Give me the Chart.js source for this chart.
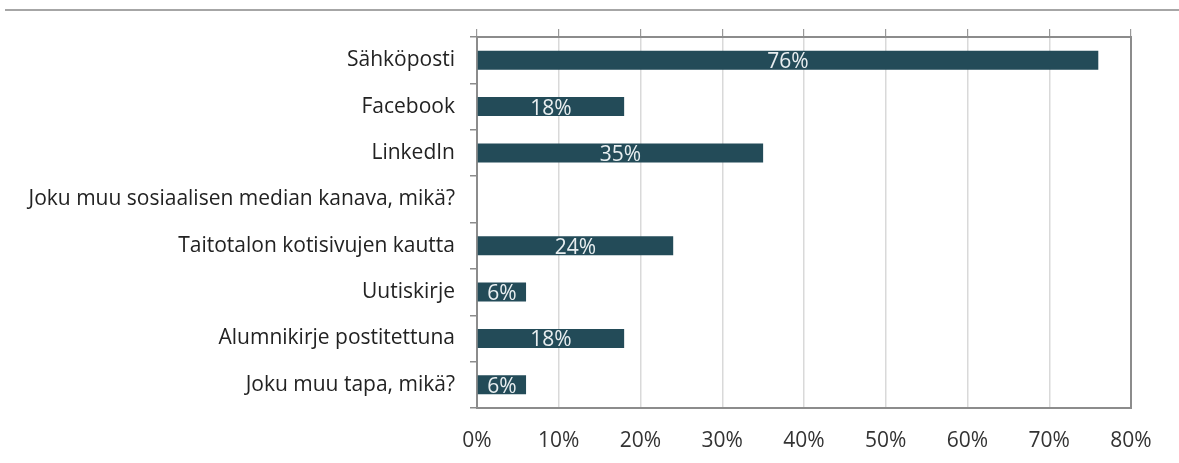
<!DOCTYPE html>
<html>
<head>
<meta charset="utf-8">
<script src="https://cdn.jsdelivr.net/npm/chart.js@4/dist/chart.umd.min.js"></script>
<style>
  html, body { margin: 0; padding: 0; background: #fff; }
  #wrap { position: relative; width: 1179px; height: 463px; }
  #topline { position: absolute; left: 5px; right: 0; top: 9px; height: 0; border-top: 2px solid #a6a6a6; }
  canvas { position: absolute; left: 0; top: 0; }
</style>
</head>
<body>
<div id="wrap">
  <div id="topline"></div>
  <canvas id="c" width="1179" height="463"></canvas>
</div>
<script>
const categories = [
  "Sähköposti",
  "Facebook",
  "LinkedIn",
  "Joku muu sosiaalisen median kanava, mikä?",
  "Taitotalon kotisivujen kautta",
  "Uutiskirje",
  "Alumnikirje postitettuna",
  "Joku muu tapa, mikä?"
];
const values = [76, 18, 35, 0, 24, 6, 18, 6];
const tickValues = [0, 10, 20, 30, 40, 50, 60, 70, 80];

const FONT = "'Open Sans', Lato, sans-serif";

const dataLabels = {
  id: 'dataLabels',
  afterDatasetsDraw(chart) {
    const ctx = chart.ctx;
    const meta = chart.getDatasetMeta(0);
    ctx.save();
    ctx.font = "21px " + FONT;
    ctx.fillStyle = "#e8eef0";
    ctx.textAlign = "center";
    ctx.textBaseline = "middle";
    meta.data.forEach((bar, i) => {
      const v = values[i];
      if (!v) return;
      const cx = (bar.x + bar.base) / 2;
      ctx.fillText(v + "%", cx, bar.y + 2);
    });
    ctx.restore();
  }
};

new Chart(document.getElementById('c'), {
  type: 'bar',
  data: {
    labels: categories,
    datasets: [{
      data: values,
      backgroundColor: '#234b58',
      borderWidth: 0,
      categoryPercentage: 1,
      barPercentage: 0.41
    }]
  },
  options: {
    indexAxis: 'y',
    responsive: false,
    animation: false,
    layout: { padding: { top: 29, right: 48, left: 0, bottom: 0 } },
    plugins: { legend: { display: false }, tooltip: { enabled: false } },
    scales: {
      x: {
        position: 'bottom',
        min: 0, max: 80,
        afterBuildTicks(s) { s.ticks = tickValues.map(v => ({ value: v })); },
        afterFit(s) { s.height = 55; },
        ticks: {
          callback: v => v + '%',
          color: '#333',
          font: { family: FONT, size: 21 },
          padding: 20
        },
        grid: { color: '#d9d9d9', lineWidth: 1.5, drawTicks: false },
        border: { color: '#8c8c8c', width: 2 }
      },
      x2: {
        position: 'top',
        min: 0, max: 80,
        afterBuildTicks(s) { s.ticks = tickValues.map(v => ({ value: v })); },
        ticks: { display: false },
        grid: { drawOnChartArea: false, drawTicks: true, tickLength: 8, tickColor: '#999', lineWidth: 1.2 },
        border: { color: '#8c8c8c', width: 2 }
      },
      y: {
        position: 'left',
        afterFit(s) { s.width = 477; },
        ticks: {
          color: '#222',
          font: { family: FONT, size: 21 },
          padding: 15
        },
        grid: { drawOnChartArea: false, offset: true, drawTicks: true, tickLength: 7, tickColor: '#8c8c8c', lineWidth: 1.5 },
        border: { color: '#8c8c8c', width: 2 }
      },
      y2: {
        position: 'right',
        type: 'category',
        labels: categories,
        afterFit(s) { s.width = 0; },
        ticks: { display: false },
        grid: { display: false, drawTicks: false },
        border: { display: true, color: '#8c8c8c', width: 2 }
      }
    }
  },
  plugins: [dataLabels]
});
</script>
</body>
</html>
